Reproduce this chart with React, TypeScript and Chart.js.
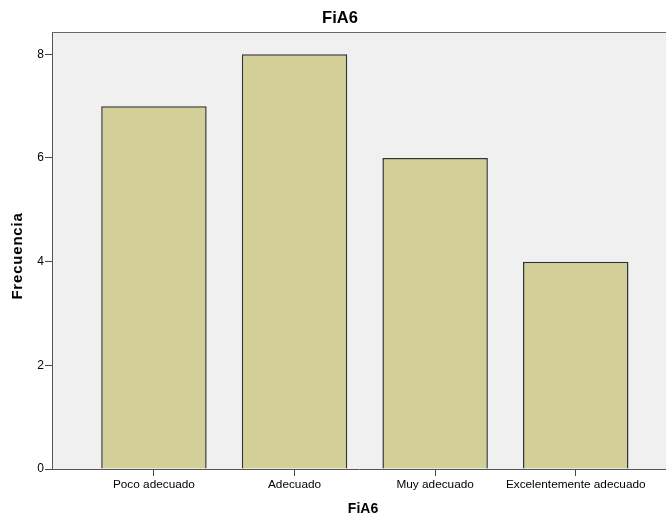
import React, { useEffect, useRef } from "react";
import { Chart, registerables } from "chart.js";

Chart.register(...registerables);

const chartTitle = "FiA6";
const xAxisTitle = "FiA6";
const yAxisTitle = "Frecuencia";
const categories = ["Poco adecuado", "Adecuado", "Muy adecuado", "Excelentemente adecuado"];
const frequencies = [7, 8, 6, 4];
const yTicks = [0, 2, 4, 6, 8];

const FONT = "Arial, 'Liberation Sans', sans-serif";

const framePlugin = {
  id: "frame",
  beforeDraw(chart: any) {
    const { ctx, chartArea } = chart;
    ctx.save();
    ctx.fillStyle = "#f0f0f0";
    ctx.fillRect(chartArea.left, chartArea.top, chartArea.right - chartArea.left, chartArea.bottom - chartArea.top);
    ctx.restore();
  },
  afterDraw(chart: any) {
    const { ctx, chartArea } = chart;
    ctx.save();
    ctx.strokeStyle = "#666666";
    ctx.lineWidth = 1;
    ctx.beginPath();
    ctx.moveTo(chartArea.left, chartArea.top + 0.5);
    ctx.lineTo(chartArea.right, chartArea.top + 0.5);
    ctx.stroke();
    ctx.fillStyle = "#000";
    ctx.textAlign = "center";
    ctx.textBaseline = "middle";
    ctx.font = `bold 16.5px ${FONT}`;
    ctx.fillText(chartTitle, 340, 18);
    ctx.font = `bold 14px ${FONT}`;
    ctx.fillText(xAxisTitle, 363, 509);
    (ctx as any).letterSpacing = "0.8px";
    ctx.font = `bold 15px ${FONT}`;
    ctx.translate(18, 256);
    ctx.rotate(-Math.PI / 2);
    ctx.fillText(yAxisTitle, 0, 0);
    ctx.restore();
  },
};

export default function App() {
  const ref = useRef<HTMLCanvasElement>(null);
  useEffect(() => {
    if (!ref.current) return;
    const chart = new Chart(ref.current, {
      type: "bar",
      data: {
        datasets: [
          {
            data: frequencies.map((v, i) => ({ x: i, y: v })),
            backgroundColor: "#d3cf98",
            borderColor: "#333333",
            borderWidth: 1.5,
            barPercentage: 0.75,
            categoryPercentage: 1,
          },
        ],
      },
      options: {
        responsive: false,
        animation: false,
        layout: { padding: { top: 32, left: 0, right: 0, bottom: 0 } },
        plugins: { legend: { display: false }, tooltip: { enabled: false }, title: { display: false } },
        scales: {
          x: {
            type: "linear",
            min: -0.725,
            max: 3.642,
            offset: false,
            grid: { offset: false, drawOnChartArea: false, drawTicks: true, tickLength: 7, color: "#444" },
            border: { display: true, color: "#555" },
            ticks: {
              stepSize: 1,
              includeBounds: false,
              autoSkip: false,
              maxRotation: 0,
              padding: 2,
              color: "#000",
              font: { family: FONT, size: 11.8 },
              callback: (v: any) => categories[v] ?? "",
            },
            afterFit: (s: any) => {
              s.height = 51;
            },
          },
          y: {
            min: 0,
            max: 8.43,
            grid: { drawOnChartArea: false, drawTicks: true, tickLength: 7, color: "#444" },
            border: { display: true, color: "#555" },
            ticks: {
              stepSize: 2,
              includeBounds: false,
              padding: 1,
              color: "#000",
              font: { family: FONT, size: 12 },
              callback: (v: any) => (yTicks.includes(v) ? String(v) : ""),
            },
            afterFit: (s: any) => {
              s.width = 52;
            },
          },
        },
      },
      plugins: [framePlugin],
    });
    return () => chart.destroy();
  }, []);
  return (
    <div style={{ position: "absolute", left: 0, top: 0, width: 666, height: 520, background: "#fff" }}>
      <canvas ref={ref} width={666} height={520} />
    </div>
  );
}
